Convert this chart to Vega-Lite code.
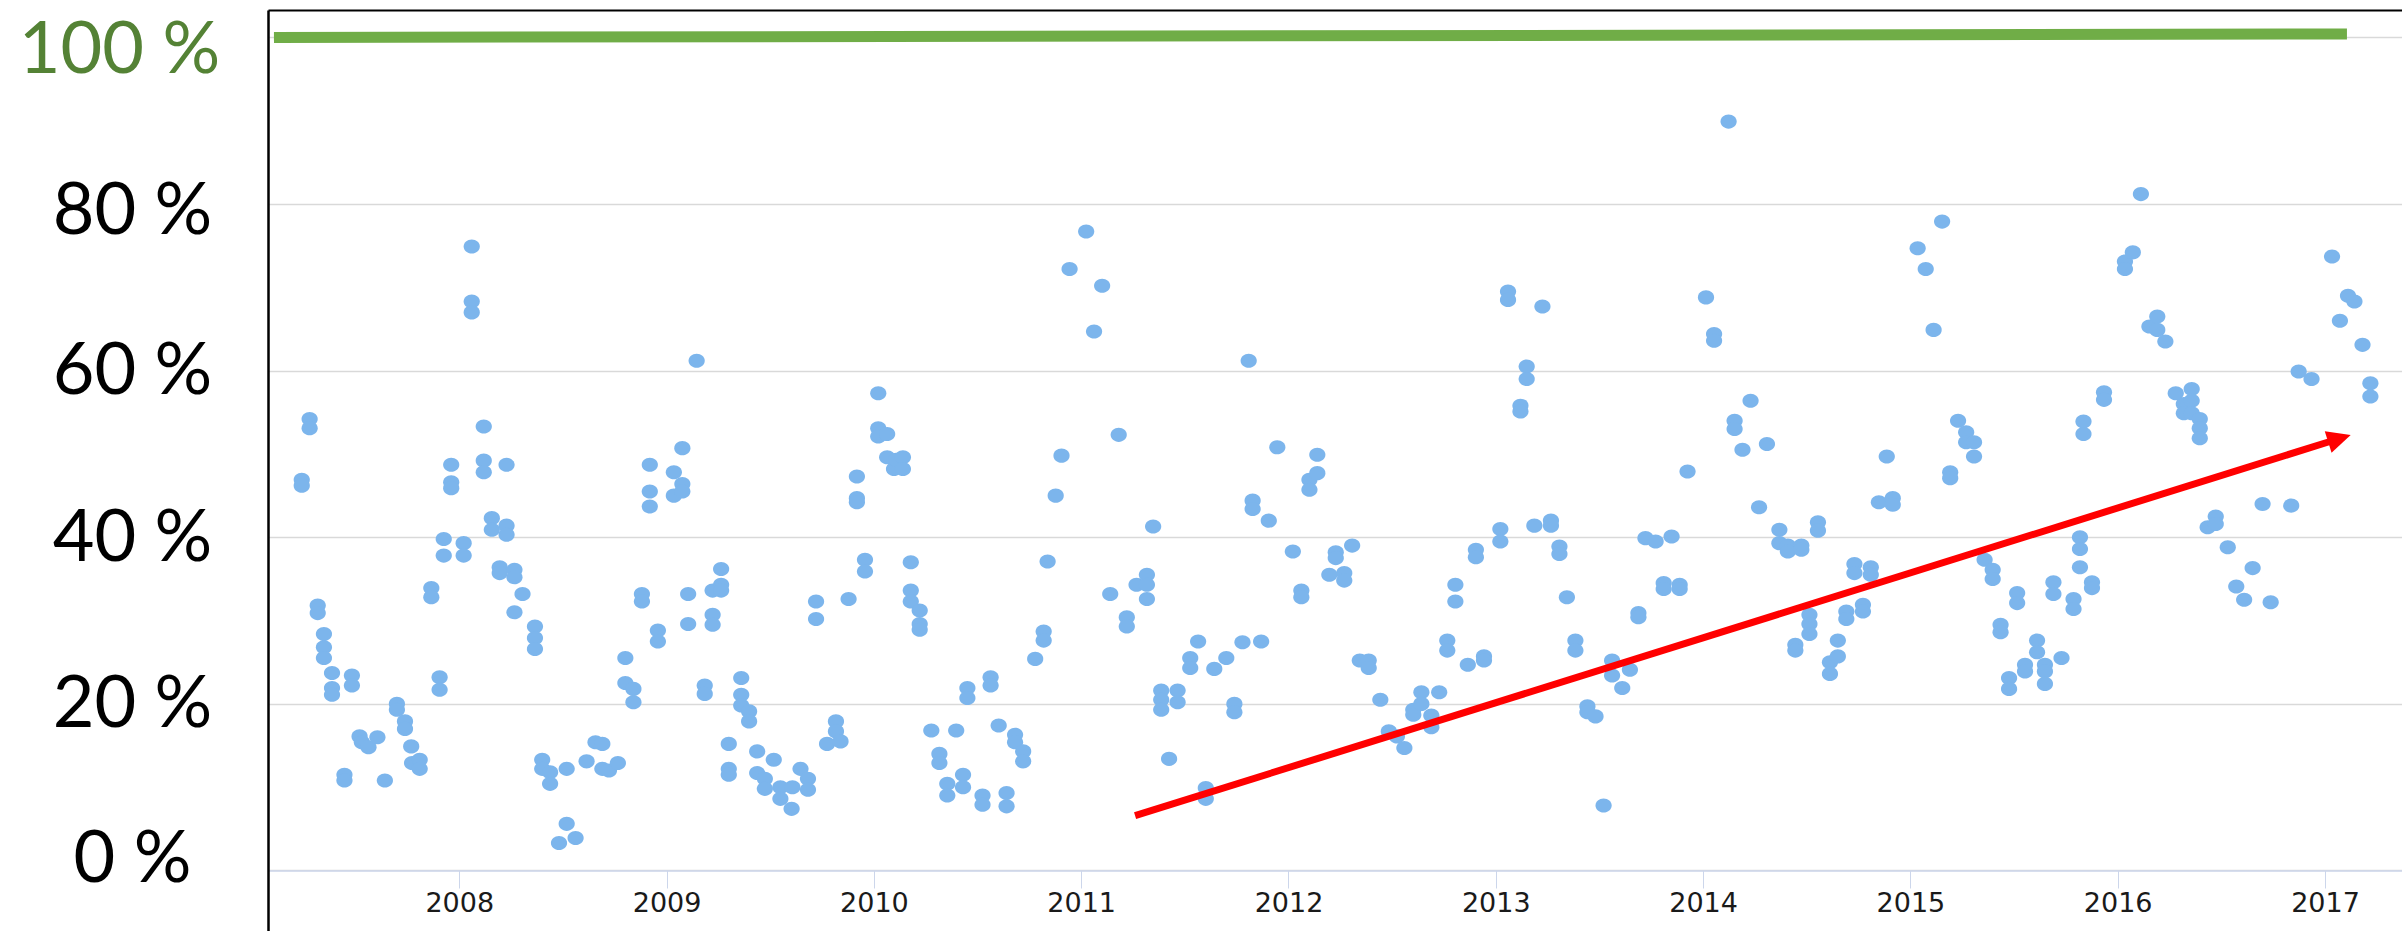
{
"$schema": "https://vega.github.io/schema/vega-lite/v6.json",
"width": 2134,
"height": 921,
"autosize": {"type": "none"},
"padding": {"left": 268, "top": 10, "right": 0, "bottom": 0},
"background": "#ffffff",
"config": {"view": {"stroke": null}},
"resolve": {"axis": {"x": "independent", "y": "independent"}},
"datasets": {
"points": [
{"year":2007.240,"share":46.9},{"year":2007.240,"share":46.2},
{"year":2007.278,"share":54.2},{"year":2007.278,"share":53.1},
{"year":2007.317,"share":31.8},{"year":2007.317,"share":30.9},
{"year":2007.347,"share":28.4},{"year":2007.347,"share":26.8},{"year":2007.347,"share":25.5},
{"year":2007.386,"share":23.7},{"year":2007.386,"share":21.9},{"year":2007.386,"share":21.1},
{"year":2007.446,"share":11.5},{"year":2007.446,"share":10.8},
{"year":2007.482,"share":23.4},{"year":2007.482,"share":22.2},
{"year":2007.519,"share":16.1},{"year":2007.530,"share":15.4},{"year":2007.562,"share":14.8},{"year":2007.605,"share":16.0},
{"year":2007.641,"share":10.8},
{"year":2007.699,"share":20.0},{"year":2007.699,"share":19.3},
{"year":2007.738,"share":17.9},{"year":2007.738,"share":17.0},
{"year":2007.768,"share":14.9},{"year":2007.772,"share":12.9},
{"year":2007.809,"share":13.3},{"year":2007.809,"share":12.2},
{"year":2007.865,"share":33.9},{"year":2007.865,"share":32.8},
{"year":2007.905,"share":23.2},{"year":2007.905,"share":21.7},
{"year":2007.925,"share":39.8},{"year":2007.925,"share":37.8},
{"year":2007.961,"share":48.7},{"year":2007.961,"share":46.6},{"year":2007.961,"share":45.9},
{"year":2008.021,"share":39.3},{"year":2008.021,"share":37.8},
{"year":2008.060,"share":74.9},{"year":2008.060,"share":68.3},{"year":2008.060,"share":67.0},
{"year":2008.118,"share":53.3},{"year":2008.118,"share":49.2},{"year":2008.118,"share":47.8},
{"year":2008.157,"share":42.3},{"year":2008.157,"share":40.9},
{"year":2008.195,"share":36.4},{"year":2008.195,"share":35.7},
{"year":2008.228,"share":48.7},{"year":2008.228,"share":41.4},{"year":2008.228,"share":40.3},
{"year":2008.266,"share":36.1},{"year":2008.266,"share":35.2},{"year":2008.266,"share":31.0},
{"year":2008.305,"share":33.2},
{"year":2008.365,"share":29.3},{"year":2008.365,"share":27.9},{"year":2008.365,"share":26.6},
{"year":2008.400,"share":13.3},{"year":2008.400,"share":12.2},
{"year":2008.438,"share":11.8},{"year":2008.438,"share":10.4},
{"year":2008.481,"share":3.3},{"year":2008.518,"share":5.6},{"year":2008.518,"share":12.2},{"year":2008.561,"share":3.9},
{"year":2008.614,"share":13.1},{"year":2008.657,"share":15.4},{"year":2008.690,"share":15.2},{"year":2008.690,"share":12.2},{"year":2008.722,"share":12.0},{"year":2008.765,"share":12.9},
{"year":2008.801,"share":25.5},{"year":2008.801,"share":22.5},
{"year":2008.840,"share":21.8},{"year":2008.840,"share":20.2},
{"year":2008.881,"share":33.2},{"year":2008.881,"share":32.3},
{"year":2008.919,"share":48.7},{"year":2008.919,"share":45.5},{"year":2008.919,"share":43.7},
{"year":2008.958,"share":28.8},{"year":2008.958,"share":27.5},
{"year":2009.035,"share":47.8},{"year":2009.035,"share":45.0},
{"year":2009.076,"share":50.7},{"year":2009.076,"share":46.4},{"year":2009.076,"share":45.5},
{"year":2009.104,"share":33.2},{"year":2009.104,"share":29.6},
{"year":2009.145,"share":61.2},
{"year":2009.184,"share":22.2},{"year":2009.184,"share":21.2},
{"year":2009.222,"share":33.6},{"year":2009.222,"share":30.7},{"year":2009.222,"share":29.5},
{"year":2009.263,"share":36.2},{"year":2009.263,"share":34.3},{"year":2009.263,"share":33.6},
{"year":2009.300,"share":15.2},{"year":2009.300,"share":12.2},{"year":2009.300,"share":11.5},
{"year":2009.360,"share":23.1},{"year":2009.360,"share":21.1},{"year":2009.360,"share":19.8},
{"year":2009.398,"share":19.1},{"year":2009.398,"share":17.9},
{"year":2009.437,"share":14.3},{"year":2009.437,"share":11.7},
{"year":2009.474,"share":11.0},{"year":2009.474,"share":9.8},
{"year":2009.517,"share":13.3},
{"year":2009.549,"share":10.0},{"year":2009.549,"share":8.6},
{"year":2009.603,"share":7.4},{"year":2009.607,"share":10.0},{"year":2009.646,"share":12.2},
{"year":2009.682,"share":11.0},{"year":2009.682,"share":9.7},
{"year":2009.721,"share":32.3},{"year":2009.721,"share":30.2},
{"year":2009.774,"share":15.2},
{"year":2009.817,"share":17.9},{"year":2009.817,"share":16.7},
{"year":2009.839,"share":15.5},
{"year":2009.878,"share":32.6},
{"year":2009.918,"share":47.3},{"year":2009.918,"share":44.7},{"year":2009.918,"share":44.2},
{"year":2009.957,"share":37.3},{"year":2009.957,"share":35.9},
{"year":2010.021,"share":57.3},{"year":2010.021,"share":53.1},{"year":2010.021,"share":52.1},
{"year":2010.064,"share":52.4},{"year":2010.064,"share":49.6},
{"year":2010.097,"share":48.2},{"year":2010.107,"share":49.3},
{"year":2010.140,"share":49.6},{"year":2010.140,"share":48.2},
{"year":2010.178,"share":37.0},{"year":2010.178,"share":33.6},{"year":2010.178,"share":32.3},
{"year":2010.221,"share":31.2},{"year":2010.221,"share":29.6},{"year":2010.221,"share":28.9},
{"year":2010.277,"share":16.8},
{"year":2010.316,"share":14.0},{"year":2010.316,"share":12.9},
{"year":2010.354,"share":10.4},{"year":2010.354,"share":9.0},
{"year":2010.397,"share":16.8},
{"year":2010.430,"share":11.5},{"year":2010.430,"share":10.0},
{"year":2010.451,"share":21.9},{"year":2010.451,"share":20.7},
{"year":2010.524,"share":9.0},{"year":2010.524,"share":7.9},
{"year":2010.563,"share":23.2},{"year":2010.563,"share":22.2},
{"year":2010.602,"share":17.4},
{"year":2010.640,"share":9.3},{"year":2010.640,"share":7.7},
{"year":2010.681,"share":16.3},{"year":2010.681,"share":15.4},
{"year":2010.720,"share":14.3},{"year":2010.720,"share":13.1},
{"year":2010.778,"share":25.4},
{"year":2010.819,"share":28.7},{"year":2010.819,"share":27.6},
{"year":2010.838,"share":37.1},{"year":2010.877,"share":45.0},{"year":2010.905,"share":49.8},{"year":2010.944,"share":72.2},
{"year":2011.024,"share":76.7},{"year":2011.062,"share":64.7},{"year":2011.101,"share":70.2},{"year":2011.140,"share":33.2},{"year":2011.181,"share":52.3},
{"year":2011.220,"share":30.4},{"year":2011.220,"share":29.3},
{"year":2011.267,"share":34.3},
{"year":2011.317,"share":35.5},{"year":2011.317,"share":34.3},{"year":2011.317,"share":32.6},
{"year":2011.347,"share":41.3},
{"year":2011.386,"share":21.6},{"year":2011.386,"share":20.5},{"year":2011.386,"share":19.3},
{"year":2011.424,"share":13.4},
{"year":2011.465,"share":21.6},{"year":2011.465,"share":20.2},
{"year":2011.526,"share":25.5},{"year":2011.526,"share":24.3},
{"year":2011.564,"share":27.5},
{"year":2011.601,"share":9.9},{"year":2011.601,"share":8.6},
{"year":2011.642,"share":24.2},{"year":2011.700,"share":25.5},
{"year":2011.739,"share":20.0},{"year":2011.739,"share":19.0},
{"year":2011.778,"share":27.4},{"year":2011.808,"share":61.2},
{"year":2011.827,"share":44.4},{"year":2011.827,"share":43.4},
{"year":2011.868,"share":27.5},{"year":2011.905,"share":42.0},{"year":2011.946,"share":50.8},
{"year":2012.021,"share":38.3},
{"year":2012.062,"share":33.6},{"year":2012.062,"share":32.8},
{"year":2012.101,"share":46.9},{"year":2012.101,"share":45.7},
{"year":2012.139,"share":49.9},{"year":2012.139,"share":47.7},
{"year":2012.197,"share":35.5},
{"year":2012.228,"share":38.2},{"year":2012.228,"share":37.5},
{"year":2012.269,"share":35.7},{"year":2012.269,"share":34.8},
{"year":2012.307,"share":39.0},
{"year":2012.344,"share":25.2},
{"year":2012.387,"share":25.2},{"year":2012.387,"share":24.3},
{"year":2012.443,"share":20.5},{"year":2012.484,"share":16.7},{"year":2012.523,"share":16.1},{"year":2012.559,"share":14.7},
{"year":2012.602,"share":19.3},{"year":2012.602,"share":18.7},
{"year":2012.641,"share":21.4},{"year":2012.641,"share":20.0},
{"year":2012.689,"share":18.6},{"year":2012.689,"share":17.2},
{"year":2012.727,"share":21.4},
{"year":2012.766,"share":27.6},{"year":2012.766,"share":26.4},
{"year":2012.805,"share":34.3},{"year":2012.805,"share":32.3},
{"year":2012.865,"share":24.7},
{"year":2012.904,"share":38.5},{"year":2012.904,"share":37.6},
{"year":2012.943,"share":25.7},{"year":2012.943,"share":25.2},
{"year":2013.022,"share":41.0},{"year":2013.022,"share":39.5},
{"year":2013.059,"share":69.5},{"year":2013.059,"share":68.5},
{"year":2013.119,"share":55.8},{"year":2013.119,"share":55.1},
{"year":2013.149,"share":60.5},{"year":2013.149,"share":59.0},
{"year":2013.186,"share":41.4},{"year":2013.225,"share":67.7},
{"year":2013.266,"share":42.0},{"year":2013.266,"share":41.4},
{"year":2013.307,"share":38.9},{"year":2013.307,"share":38.0},
{"year":2013.343,"share":32.8},
{"year":2013.384,"share":27.6},{"year":2013.384,"share":26.4},
{"year":2013.442,"share":19.7},{"year":2013.442,"share":19.0},
{"year":2013.481,"share":18.5},{"year":2013.520,"share":7.8},
{"year":2013.561,"share":25.2},{"year":2013.561,"share":23.4},
{"year":2013.610,"share":21.9},{"year":2013.647,"share":24.1},
{"year":2013.688,"share":30.9},{"year":2013.688,"share":30.4},
{"year":2013.722,"share":39.9},
{"year":2013.771,"share":39.5},
{"year":2013.810,"share":34.5},{"year":2013.810,"share":33.8},
{"year":2013.848,"share":40.1},
{"year":2013.887,"share":34.3},{"year":2013.887,"share":33.8},
{"year":2013.925,"share":47.9},
{"year":2014.014,"share":68.8},
{"year":2014.053,"share":64.4},{"year":2014.053,"share":63.6},
{"year":2014.123,"share":89.9},
{"year":2014.152,"share":54.0},{"year":2014.152,"share":53.0},
{"year":2014.190,"share":50.5},{"year":2014.229,"share":56.4},{"year":2014.270,"share":43.6},{"year":2014.308,"share":51.2},
{"year":2014.368,"share":40.9},{"year":2014.368,"share":39.3},
{"year":2014.409,"share":39.0},{"year":2014.409,"share":38.3},
{"year":2014.445,"share":27.1},{"year":2014.445,"share":26.4},
{"year":2014.474,"share":39.0},{"year":2014.474,"share":38.5},
{"year":2014.513,"share":30.7},{"year":2014.513,"share":29.6},{"year":2014.513,"share":28.4},
{"year":2014.554,"share":41.8},{"year":2014.554,"share":40.8},
{"year":2014.612,"share":25.0},{"year":2014.612,"share":23.6},
{"year":2014.650,"share":27.6},{"year":2014.650,"share":25.7},
{"year":2014.691,"share":31.1},{"year":2014.691,"share":30.2},
{"year":2014.730,"share":36.8},{"year":2014.730,"share":35.7},
{"year":2014.771,"share":31.9},{"year":2014.771,"share":31.1},
{"year":2014.809,"share":36.4},{"year":2014.809,"share":35.5},
{"year":2014.848,"share":44.2},{"year":2014.886,"share":49.7},
{"year":2014.915,"share":44.7},{"year":2014.915,"share":43.9},
{"year":2015.035,"share":74.7},{"year":2015.074,"share":72.2},{"year":2015.112,"share":64.9},{"year":2015.153,"share":77.9},
{"year":2015.192,"share":47.8},{"year":2015.192,"share":47.1},
{"year":2015.230,"share":54.0},
{"year":2015.269,"share":52.6},{"year":2015.269,"share":51.4},
{"year":2015.307,"share":51.4},{"year":2015.307,"share":49.7},
{"year":2015.358,"share":37.3},
{"year":2015.397,"share":36.1},{"year":2015.397,"share":35.0},
{"year":2015.435,"share":29.5},{"year":2015.435,"share":28.6},
{"year":2015.476,"share":23.1},{"year":2015.476,"share":21.8},
{"year":2015.515,"share":33.3},{"year":2015.515,"share":32.1},
{"year":2015.553,"share":24.7},{"year":2015.553,"share":23.9},
{"year":2015.611,"share":27.6},{"year":2015.611,"share":26.2},
{"year":2015.649,"share":24.7},{"year":2015.649,"share":23.9},{"year":2015.649,"share":22.4},
{"year":2015.690,"share":34.6},{"year":2015.690,"share":33.2},
{"year":2015.729,"share":25.5},
{"year":2015.787,"share":32.6},{"year":2015.787,"share":31.4},
{"year":2015.818,"share":40.0},{"year":2015.818,"share":38.6},{"year":2015.818,"share":36.4},
{"year":2015.835,"share":53.9},{"year":2015.835,"share":52.4},
{"year":2015.876,"share":34.6},{"year":2015.876,"share":33.9},
{"year":2015.934,"share":57.4},{"year":2015.934,"share":56.5},
{"year":2016.035,"share":73.1},{"year":2016.035,"share":72.2},
{"year":2016.073,"share":74.2},{"year":2016.112,"share":81.2},{"year":2016.153,"share":65.3},
{"year":2016.191,"share":66.5},{"year":2016.191,"share":64.9},
{"year":2016.230,"share":63.5},{"year":2016.280,"share":57.3},
{"year":2016.319,"share":56.0},{"year":2016.319,"share":54.9},
{"year":2016.357,"share":57.8},{"year":2016.357,"share":56.4},{"year":2016.357,"share":54.9},
{"year":2016.396,"share":54.2},{"year":2016.396,"share":53.1},{"year":2016.396,"share":51.9},
{"year":2016.434,"share":41.2},
{"year":2016.473,"share":42.5},{"year":2016.473,"share":41.6},
{"year":2016.531,"share":38.8},{"year":2016.572,"share":34.1},{"year":2016.610,"share":32.5},{"year":2016.651,"share":36.3},{"year":2016.699,"share":44.0},{"year":2016.738,"share":32.2},{"year":2016.837,"share":43.8},{"year":2016.873,"share":59.9},{"year":2016.935,"share":59.0},
{"year":2017.034,"share":73.7},{"year":2017.072,"share":66.0},{"year":2017.111,"share":69.0},{"year":2017.142,"share":68.3},{"year":2017.181,"share":63.1},
{"year":2017.219,"share":58.5},{"year":2017.219,"share":56.9}
],
"green": [{"year":2007.106,"share":100},{"year":2017.106,"share":100.42}],
"arrow": [{"year":2011.260,"share":6.58},{"year":2017.024,"share":51.50}],
"tip": [{"year":2017.124,"share":52.28}]
},
"layer": [
{
"data": {"name": "points"},
"mark": {"type": "point", "shape": "M-1,0A1,0.87 0 1,0 1,0A1,0.87 0 1,0 -1,0Z", "size": 262, "filled": true, "strokeWidth": 0, "color": "#7cb5ec", "opacity": 1},
"encoding": {
"x": {"field": "year", "type": "quantitative",
"scale": {"domain": [2007.0772, 2017.3715], "nice": false, "zero": false},
"axis": {"orient": "bottom", "offset": -60.5, "values": [2008,2009,2010,2011,2012,2013,2014,2015,2016,2017], "format": "d", "title": null, "grid": false,
"domainColor": "#ccd6eb", "domainWidth": 1.5, "tickColor": "#ccd6eb", "tickSize": 17.5, "tickWidth": 1,
"labelFont": "DejaVu Sans", "labelFontSize": 27, "labelColor": "#1a1a1a", "labelPadding": 2.4, "labelFlush": false, "labelOverlap": false}},
"y": {"field": "share", "type": "quantitative",
"scale": {"domain": [-7.263, 103.3], "nice": false, "zero": false},
"axis": {"orient": "left", "values": [0,20,40,60,80,100], "title": null, "labelExpr": "datum.value + ' %'",
"grid": true, "gridColor": "#d9d9d9", "gridWidth": 1.5, "ticks": false, "tickSize": 0,
"domainColor": "#000000", "domainWidth": 2.5,
"labelFont": "Lato", "labelFontSize": 72, "labelAlign": "center", "labelBaseline": "middle", "labelLimit": 0,
"labelPadding": {"condition": {"test": "datum.value == 100", "value": 149}, "value": 136},
"labelOffset": {"condition": [{"test": "datum.value == 0", "value": -11}, {"test": "datum.value == 100", "value": 13}, {"test": "datum.value == 80", "value": 7}], "value": 1},
"labelColor": {"condition": {"test": "datum.value == 100", "value": "#548235"}, "value": "#000000"},
"labelFlush": false, "labelOverlap": false}}
}
},
{
"data": {"name": "green"},
"mark": {"type": "line", "color": "#70ad47", "strokeWidth": 11, "strokeCap": "butt"},
"encoding": {
"x": {"field": "year", "type": "quantitative",
"axis": {"orient": "top", "labels": false, "ticks": false, "grid": false, "title": null, "domainColor": "#000000", "domainWidth": 2}},
"y": {"field": "share", "type": "quantitative", "axis": null}
}
},
{
"data": {"name": "arrow"},
"mark": {"type": "line", "color": "#ff0000", "strokeWidth": 7, "strokeCap": "butt"},
"encoding": {
"x": {"field": "year", "type": "quantitative", "axis": null},
"y": {"field": "share", "type": "quantitative", "axis": null}
}
},
{
"data": {"name": "tip"},
"mark": {"type": "point", "shape": "M0,0L-2,-0.96L-2,0.96Z", "size": 557, "filled": true, "color": "#ff0000", "opacity": 1, "angle": 342.6, "strokeWidth": 0},
"encoding": {
"x": {"field": "year", "type": "quantitative", "axis": null},
"y": {"field": "share", "type": "quantitative", "axis": null}
}
}
]
}
